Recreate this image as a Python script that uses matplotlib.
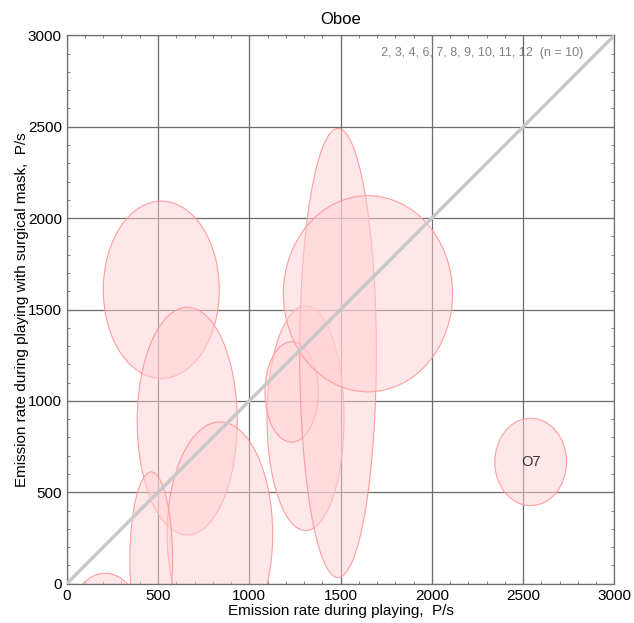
import matplotlib
matplotlib.use("Agg")
import matplotlib.pyplot as plt
from matplotlib.patches import Ellipse
from matplotlib.ticker import MultipleLocator

plt.rcParams['font.family'] = ['Liberation Sans', 'DejaVu Sans']

# ellipse centres (x: playing, y: with mask) and full widths/heights, P/s
cx = [518, 660, 839, 463, 210, 1308, 1232, 1486, 1650, 2541]
cy = [1608, 889, 270, 130, -150, 905, 1049, 1262, 1586, 666]
w = [635, 548, 578, 234, 350, 422, 292, 420, 927, 393]
h = [970, 1246, 1230, 963, 414, 1229, 549, 2457, 1073, 478]
labels = ["", "", "", "", "", "", "", "", "", "O7"]

title = "Oboe"
note = "2, 3, 4, 6, 7, 8, 9, 10, 11, 12  (n = 10)"
xlabel = "Emission rate during playing,  P/s"
ylabel = "Emission rate during playing with surgical mask,  P/s"

fig = plt.figure(figsize=(6.34, 6.23), dpi=100)
ax = fig.add_axes([0.1052, 0.0631, 0.864, 0.8802])
ax.set_xlim(0, 3000)
ax.set_ylim(0, 3000)

ax.grid(True, which='major', color='#6c6c6c', lw=0.9, zorder=0)
ax.set_axisbelow(True)

for x, y, ww, hh, lab in zip(cx, cy, w, h, labels):
    e = Ellipse((x, y), ww, hh, facecolor=(1, 209/255, 213/255, 0.5),
                edgecolor=(1, 0.6, 0.6, 0.95), lw=0.8, zorder=2)
    ax.add_patch(e)
    if lab:
        ax.text(x, y, lab, ha='center', va='center', fontsize=10.5,
                color='#333333', zorder=4)

ax.plot([0, 3000], [0, 3000], color='#c8c8c8', lw=2.5, zorder=3,
        solid_capstyle='butt')

ax.xaxis.set_major_locator(MultipleLocator(500))
ax.yaxis.set_major_locator(MultipleLocator(500))
ax.xaxis.set_minor_locator(MultipleLocator(100))
ax.yaxis.set_minor_locator(MultipleLocator(100))
ax.tick_params(which='both', direction='in', top=True, right=True,
               color='#707070', labelsize=11, labelcolor='black')
ax.tick_params(which='major', length=5)
ax.tick_params(which='minor', length=2.5)
for s in ax.spines.values():
    s.set_color('#707070')
    s.set_linewidth(0.9)

ax.set_title(title, fontsize=12, pad=8)
ax.set_xlabel(xlabel, fontsize=11, labelpad=1)
ax.set_ylabel(ylabel, fontsize=11, labelpad=-1)
ax.text(0.9425, 0.979, note, transform=ax.transAxes, ha='right', va='top',
        fontsize=9, color='#808080', zorder=5)

fig.savefig("out.png", dpi=100)
